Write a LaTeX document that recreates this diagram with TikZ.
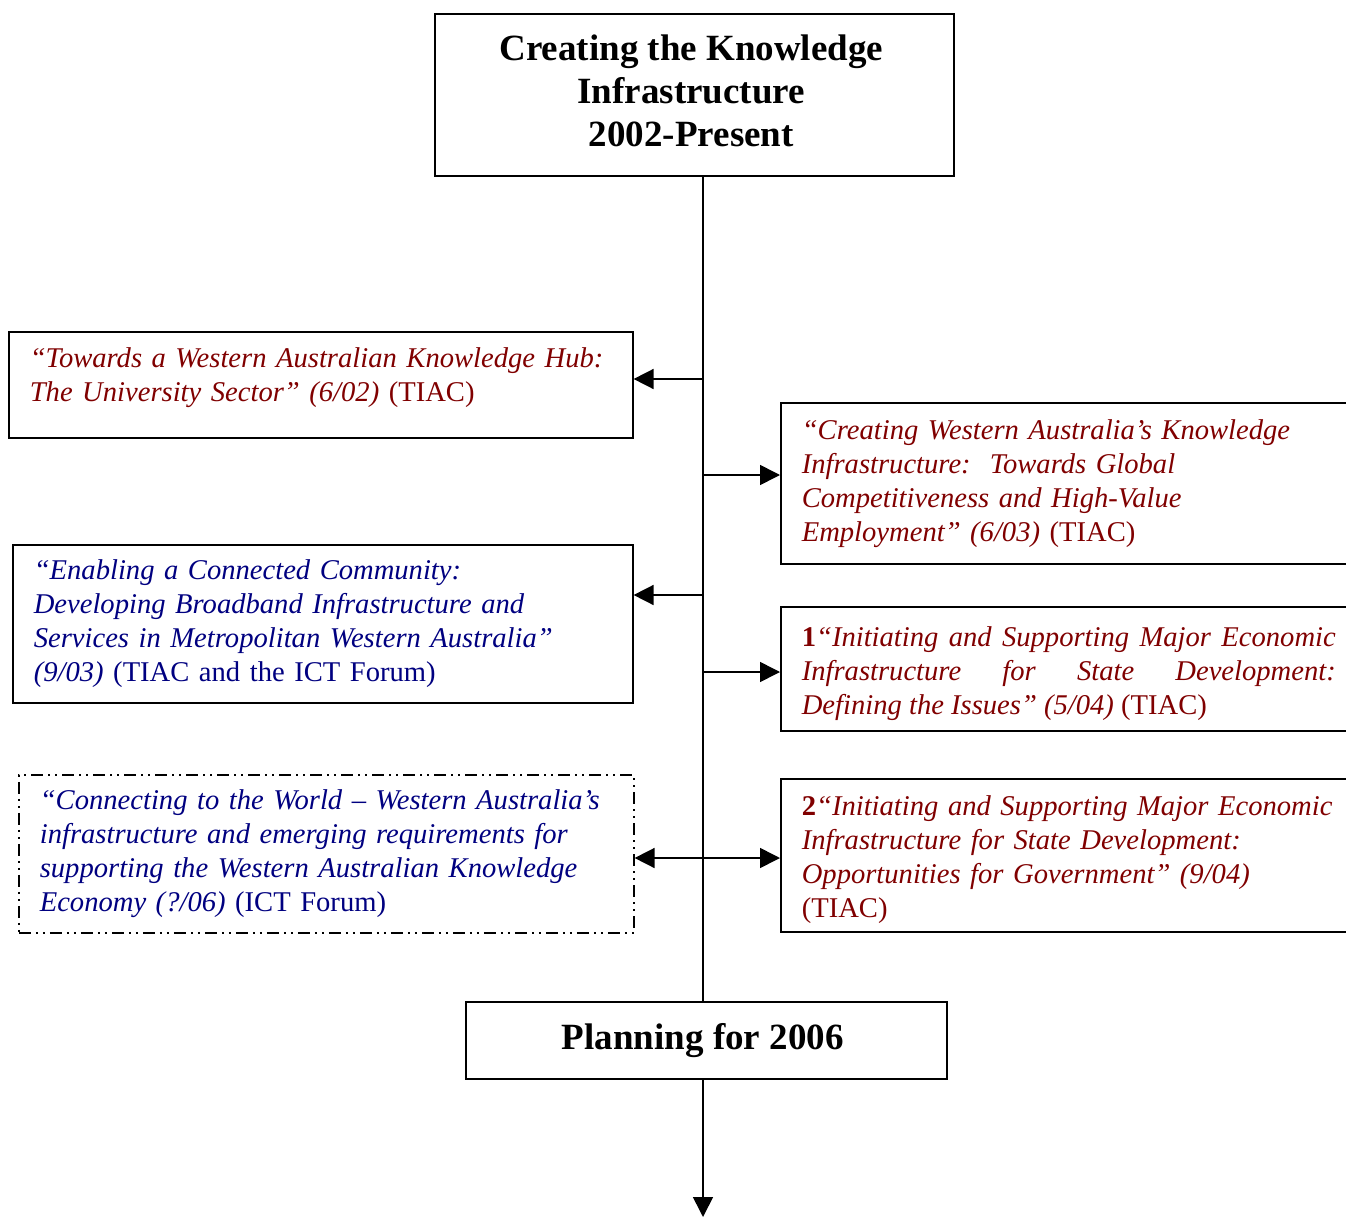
\documentclass[tikz,border=0pt]{standalone}
\usepackage{fontspec}
\setmainfont{Liberation Serif}
\usetikzlibrary{arrows.meta}
\definecolor{dred}{HTML}{800000}
\definecolor{dblue}{HTML}{000080}
\newcommand{\bodyfont}{\fontsize{28.6}{34}\selectfont\hyphenpenalty=10000 }
\newcommand{\titlefont}{\fontsize{37}{43}\selectfont\bfseries}
\begin{document}
\begin{tikzpicture}[x=1pt,y=-1pt,
  box/.style={draw,line width=1.6pt,anchor=north west,inner sep=0pt},
  txt/.style={inner sep=0pt,font=\bodyfont,align=left},
  titlebox/.style={draw,line width=1.6pt,anchor=north west,inner sep=0pt,align=center,font=\titlefont},
  dashbox/.style={box,dash pattern=on 12pt off 5pt on 2pt off 5pt on 2pt off 5pt},
  line/.style={line width=1.6pt},
  arr/.style={line width=1.6pt,-{Triangle[length=20pt,width=20pt]}}]
\useasboundingbox (0,0) rectangle (1346,1217);
\clip (0,0) rectangle (1346,1217);
% title boxes
\node[titlebox,minimum width=519pt,minimum height=162pt] (top) at (434,13)
  {\raisebox{4pt}{\parbox{500pt}{\centering Creating the Knowledge\\ Infrastructure\\ 2002-Present\\[8pt]}}\hspace*{6pt}};
\node[titlebox,minimum width=481pt,minimum height=77pt] (plan) at (465,1001)
  {\raisebox{2pt}{Planning for 2006}\hspace*{7pt}};
% left boxes
\node[box,minimum width=624pt,minimum height=106pt] (l1) at (8,331) {};
\node[txt,text width=582pt,text=dred] (l1t) at ([yshift=7pt]l1.center)
  {\mbox{\textit{“Towards a Western Australian Knowledge Hub:}}\\ \mbox{\textit{The University Sector” (6/02)} (TIAC)}};
\node[box,minimum width=620pt,minimum height=158pt] (l2) at (12,544) {};
\node[txt,text width=578pt,text=dblue] (l2t) at (l2.center)
  {\mbox{\textit{“Enabling a Connected Community:}}\\ \mbox{\textit{Developing Broadband Infrastructure and}}\\ \mbox{\textit{Services in Metropolitan Western Australia”}}\\ \mbox{\textit{(9/03)} (TIAC and the ICT Forum)}};
\node[dashbox,minimum width=615pt,minimum height=158pt] (l3) at (18,774) {};
\node[txt,text width=573pt,text=dblue] (l3t) at (l3.center)
  {\mbox{\textit{“Connecting to the World – Western Australia’s}}\\ \mbox{\textit{infrastructure and emerging requirements for}}\\ \mbox{\textit{supporting the Western Australian Knowledge}}\\ \mbox{\textit{Economy (?/06)} (ICT Forum)}};
% right boxes
\node[box,minimum width=576pt,minimum height=161pt] (r1) at (780,402) {};
\node[txt,text width=534pt,text=dred] (r1t) at (r1.center)
  {\mbox{\textit{“Creating Western Australia’s Knowledge}}\\ \mbox{\textit{Infrastructure:\ \ Towards Global}}\\ \mbox{\textit{Competitiveness and High-Value}}\\ \mbox{\textit{Employment” (6/03)} (TIAC)}};
\node[box,minimum width=576pt,minimum height=124pt] (r2) at (780,606) {};
\node[txt,text width=534pt,align=justify,text=dred] (r2t) at ([yshift=-5pt]r2.center)
  {\textbf{1}\textit{“Initiating and Supporting Major Economic}\linebreak \textit{Infrastructure for State Development:}\linebreak \textit{Defining the Issues” (5/04)} (TIAC)};
\node[box,minimum width=576pt,minimum height=153pt] (r3) at (780,778) {};
\node[txt,text width=534pt,text=dred] (r3t) at ([yshift=-4pt]r3.center)
  {\mbox{\textbf{2}\textit{“Initiating and Supporting Major Economic}}\\ \mbox{\textit{Infrastructure for State Development:}}\\ \mbox{\textit{Opportunities for Government” (9/04)}}\\ \mbox{(TIAC)}};
% trunk
\coordinate (j1) at (703,379);
\coordinate (j2) at (703,475);
\coordinate (j3) at (703,595);
\coordinate (j4) at (703,672);
\coordinate (j5) at (703,858);
\coordinate (end) at (703,1217);
\draw[line] (top.south -| j1) -- (plan.north -| j1);
\draw[arr] (j1) -- (j1 -| l1.east);
\draw[arr] (j2) -- (j2 -| r1.west);
\draw[arr] (j3) -- (j3 -| l2.east);
\draw[arr] (j4) -- (j4 -| r2.west);
\draw[arr] (j5) -- (j5 -| l3.east);
\draw[arr] (j5) -- (j5 -| r3.west);
\draw[arr] (plan.south -| j1) -- (end);
\end{tikzpicture}
\end{document}
